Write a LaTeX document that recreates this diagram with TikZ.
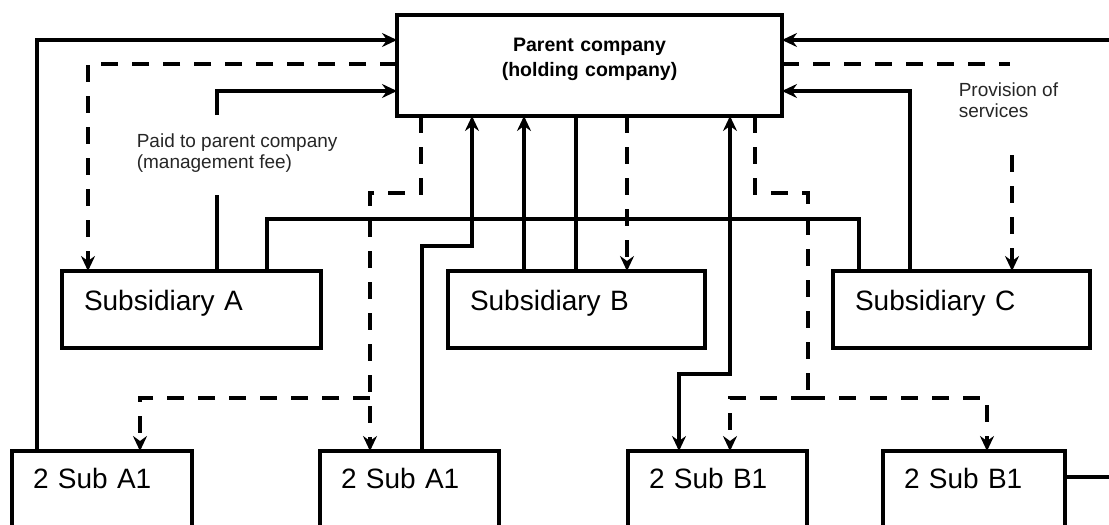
\documentclass[tikz,border=0pt]{standalone}
\usepackage{fontspec}
\setmainfont{Liberation Sans}
\usetikzlibrary{arrows.meta}
\newcommand\bxfont{\fontsize{28}{32}\selectfont}
\newcommand\lblfont{\fontsize{19}{20.5}\selectfont}
\newcommand\parfont{\fontsize{19.5}{25}\selectfont\bfseries}
\tikzset{
  base/.style={draw, line width=3.6pt, outer sep=0pt, inner ysep=0pt, anchor=north west, align=left},
  subbox/.style={base, inner xsep=22pt, text width=#1, text height=39pt, text depth=38pt, font=\bxfont},
  lowbox/.style={base, inner xsep=21pt, text width=#1, text height=37pt, text depth=40pt, font=\bxfont},
  dsh/.style={dash pattern=on 17pt off 14pt},
  lbl/.style={inner sep=0pt, anchor=north west, align=left, font=\lblfont, text=black!85}
}
\begin{document}
\begin{tikzpicture}[x=1pt, y=-1pt, line width=3.6pt,
  >={Stealth[length=15pt,width=14pt,inset=5pt]}]
\useasboundingbox (0,0) rectangle (1109,525);
\clip (0,0) rectangle (1109,525);

% nodes
\node[base, inner xsep=0pt, align=center, text width=385pt, text height=36pt, text depth=65pt, font=\parfont]
  (P) at (397,15) {Parent company\\(holding company)};
\node[subbox=215pt] (A) at (62,271) {Subsidiary A};
\node[subbox=213pt] (B) at (448,271) {Subsidiary B};
\node[subbox=213pt] (C) at (833,271) {Subsidiary C};
\node[lowbox=138pt] (B1) at (12,451) {2 Sub A1};
\node[lowbox=137pt] (B2) at (320,451) {2 Sub A1};
\node[lowbox=137pt] (B3) at (628,451) {2 Sub B1};
\node[lowbox=140pt] (B4) at (883,451) {2 Sub B1};

\node[lbl] (L1) at (135,132) {Paid to parent company\\(management fee)};
\node[lbl] (L2) at (957,81) {Provision of\\services};

\coordinate (pa1) at (217,195);
\coordinate (pa2) at (217,115);
\coordinate (ps1) at (1010,64);
\coordinate (ps2) at (1012,155);
\coordinate (jl) at (370,398);
\coordinate (jr) at (808,398);

% left side
\draw[->] (B1.north -| 37,0) |- (P.west |- 0,40);
\draw[dsh,->] (P.west |- 0,64) -| (A.north -| 88,0);
\draw (A.north -| 217,0) -- (pa1);
\draw[->] (pa2) |- (P.west |- 0,91);
\draw (A.north -| 267,0) |- (859,219) -- (C.north -| 859,0);

% middle
\draw[dsh,->] (P.south -| 421,0) |- (370,193) -- (B2.north -| 370,0);
\draw[dsh,->] (jl) -| (B1.north -| 140,0);
\draw[->] (B2.north -| 422,0) |- (472,246) -- (P.south -| 472,0);
\draw[->] (B.north -| 524,0) -- (P.south -| 524,0);
\draw (B.north -| 576,0) -- (P.south -| 576,0);
\draw[dsh,->] (P.south -| 627,0) -- (B.north -| 627,0);
\draw[<->] (P.south -| 730,0) |- (679,374) -- (B3.north -| 679,0);
\draw[dsh] (P.south -| 755,0) |- (808,193) -- (jr);
\draw[dsh,->] (jr) -| (B3.north -| 730,0);
\draw[dsh,->] (jr) -| (B4.north -| 987,0);

% right side
\draw[->] (C.north -| 910,0) |- (P.east |- 0,91);
\draw[->] (B4.east |- 0,477) -- (1125,477) |- (P.east |- 0,40);
\draw[dsh] (P.east |- 0,64) -- (ps1);
\draw[dsh,->] (ps2) -- (C.north -| ps2);
\end{tikzpicture}
\end{document}
